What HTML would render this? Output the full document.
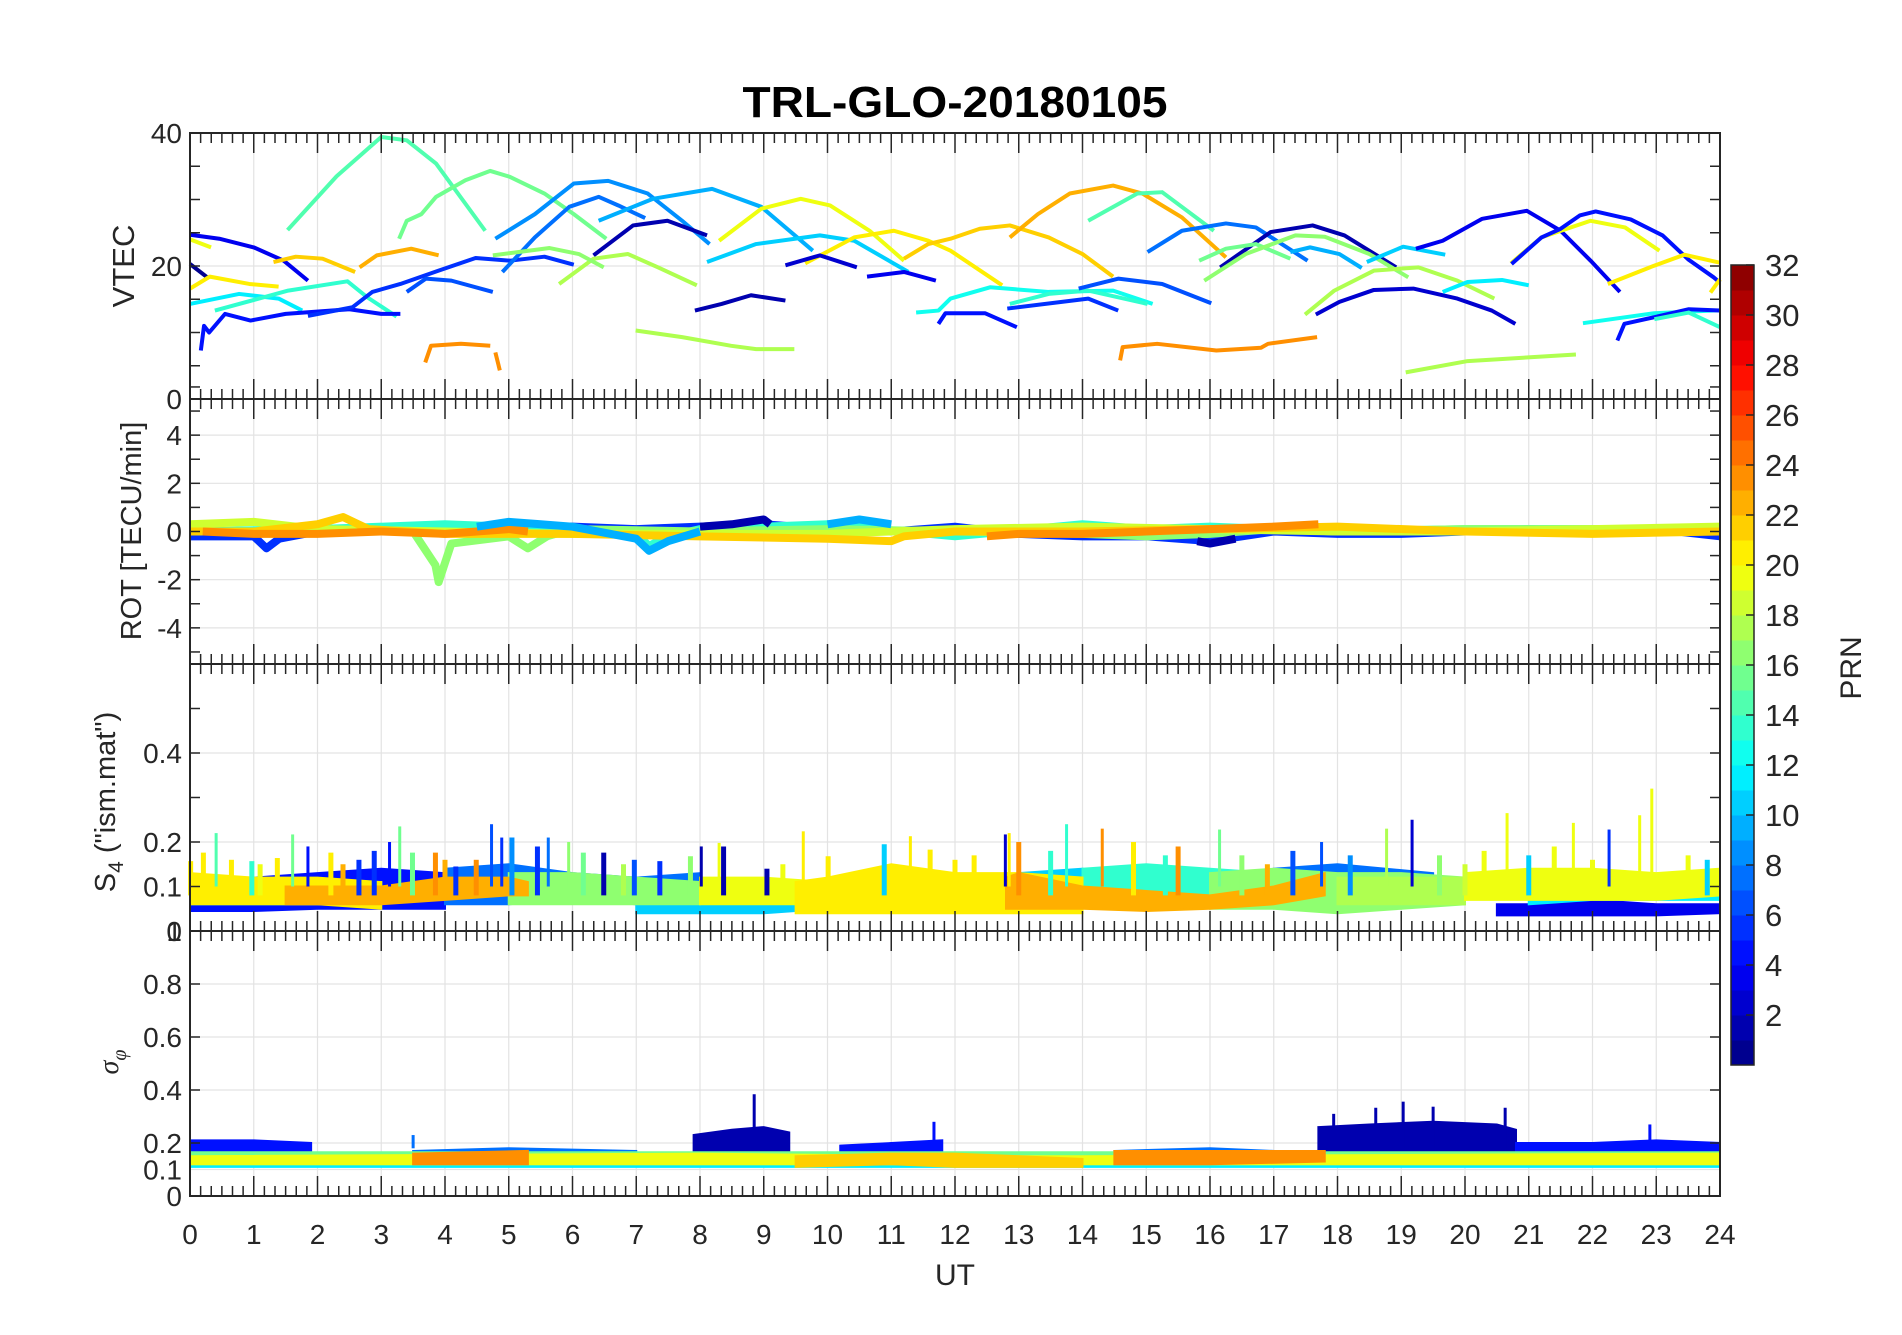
<!DOCTYPE html>
<html><head><meta charset="utf-8"><style>
html,body{margin:0;padding:0;background:#fff}
svg text{font-family:"Liberation Sans",sans-serif;fill:#262626}
</style></head><body>
<svg id="fig" width="1902" height="1330" viewBox="0 0 1902 1330" xmlns="http://www.w3.org/2000/svg">
<rect width="1902" height="1330" fill="#fff"/>
<text x="955" y="117" text-anchor="middle" font-size="44" font-weight="bold" textLength="425" lengthAdjust="spacingAndGlyphs" style="fill:#000">TRL-GLO-20180105</text>
<g id="layer"></g>
</svg>
<script>
// ---------- VTEC arcs ----------
const vtecPrn=[4,1,20,21,12,14,5,6,7,15,22,23,16,9,8,10,2,20,11,21,22,3,4,2,18,24,24,18,17,13,5,23,15,8,2,16,17,10,11,18,3,12,4,20,5,21,6,14,7,24,18,13,5,14,21];
const vtecT=[[0,0.46,1.0,1.47,1.85],[0,0.27],[0,0.33],[0,0.31,0.93,1.39],[0,0.77,1.39,1.76],[0.39,1.54,2.47,2.78,3.24],[0.17,0.22,0.3,0.55,0.95,1.5,2.5,3.0,3.3],[1.85,2.55,2.86,3.3,3.9,4.48,5.02,5.56,6.02],[3.4,3.7,4.1,4.75],[1.53,2.3,3.0,3.4,3.86,4.63],[1.31,1.66,2.08,2.59],[2.66,2.93,3.47,3.9],[3.28,3.4,3.63,3.86,4.32,4.71,5.02,5.56,6.02,6.53],[4.79,5.41,6.02,6.56,7.18,7.72,8.15],[4.9,5.41,5.95,6.41,6.72,7.14],[6.41,7.26,8.19,8.96,9.77],[6.33,6.95,7.49,8.11],[8.3,8.96,9.58,10.04,10.66,11.2],[8.11,8.88,9.88,10.42,11.27],[9.65,10.42,11.04,11.58,11.93,12.74],[11.2,11.58,11.93,12.39,12.86,13.47,14.0,14.48],[9.34,9.88,10.46],[10.62,11.2,11.7],[7.92,8.34,8.8,9.34],[6.99,7.72,8.49,8.88,9.48],[3.69,3.78,4.25,4.71],[4.79,4.86],[5.79,6.33,6.87,7.34,7.95],[4.75,5.64,6.1,6.49],[11.39,11.74,11.93,12.55,13.47,14.48,15.1],[11.74,11.85,12.47,12.97],[12.86,13.3,13.8,14.48,14.94,15.56,16.25],[14.09,14.86,15.25,16.06],[15.02,15.56,16.25,16.72,17.53],[16.16,16.95,17.61,18.11,18.92],[15.83,16.25,16.72,17.26],[15.91,16.56,17.34,17.8,18.5,19.11],[17.26,17.57,18.03,18.38],[18.46,19.03,19.69],[17.49,17.95,18.57,19.27,19.88,20.46],[17.66,18.03,18.57,19.19,19.88,20.42,20.79],[19.65,20.04,20.58,21.0],[19.23,19.65,20.27,20.97,21.5,21.97,22.43],[20.72,21.2,21.97,22.51,23.05],[20.73,21.2,21.5,21.8,22.05,22.6,23.1,23.5,23.9,24],[22.24,22.9,23.44,23.9,24],[12.82,14.09,14.56],[12.86,13.47,14.09,15.02],[13.94,14.56,15.25,16.02],[14.59,14.63,15.17,16.1,16.8,16.91,17.68],[19.07,20.04,21.74],[21.85,22.97,23.9,24],[22.39,22.5,22.97,23.51,24],[22.97,23.51,24],[23.85,24]];
const vtecV=[[24.7,24.1,22.8,20.8,17.8],[20.3,18.3],[24,22.8],[16.6,18.4,17.3,16.9],[14.3,15.8,15.1,13.3],[13.3,16.3,17.7,15.3,12.4],[7.3,11,10,12.8,11.8,12.8,13.5,12.8,12.8],[12.5,13.8,16.1,17.3,19.3,21.2,20.8,21.4,20.2],[16.1,18.1,17.8,16.1],[25.4,33.5,39.4,38.9,35.4,25.3],[20.6,21.4,21.1,19.1],[19.8,21.6,22.6,21.6],[24.1,26.8,27.8,30.4,32.9,34.3,33.4,30.9,27.8,24.1],[24.1,27.8,32.4,32.8,30.9,26.8,23.3],[19.1,24.3,28.9,30.4,29.1,27.2],[26.8,30.1,31.6,28.9,22.3],[21.6,26.1,26.8,24.6],[23.8,28.6,30.1,29.1,25.3,20.8],[20.6,23.3,24.6,23.8,19.1],[20.4,24.3,25.3,23.8,22.3,17.1],[21.1,23.3,24.1,25.6,26.1,24.3,21.8,18.4],[20.1,21.6,19.8],[18.4,19.1,17.8],[13.3,14.3,15.6,14.8],[10.3,9.3,8.0,7.5,7.5],[5.5,8.0,8.3,8.0],[7,4.3],[17.3,21.1,21.8,19.8,17.1],[21.6,22.7,21.8,19.8],[13,13.3,15.1,16.8,16.1,16.3,14.3],[11.3,12.9,12.9,10.8],[24.3,27.8,30.9,32.1,30.9,27.3,21.3],[26.8,30.9,31.1,25.3],[22.1,25.3,26.4,25.8,20.8],[19.8,25.1,26.1,24.6,19.8],[20.8,22.6,23.3,21.1],[17.8,21.8,24.6,24.4,21.8,18.3],[22.1,22.8,21.8,19.7],[20.6,22.9,21.7],[12.7,16.3,19.3,19.8,17.8,15.1],[12.7,14.6,16.4,16.6,15.1,13.3,11.3],[16.1,17.6,17.9,17.1],[22.6,23.8,27.1,28.3,25.3,20.8,16.1],[20.4,24.3,26.8,25.8,22.3],[20.3,24.3,25.6,27.6,28.2,27,24.6,21,18.3,17.5],[17.3,19.8,21.7,20.7,20.5],[13.6,15.1,13.3],[14.3,15.8,16.3,14.3],[16.6,18.1,17.3,14.4],[5.8,7.8,8.3,7.3,7.7,8.3,9.3],[4.0,5.7,6.7],[11.4,12.9,13.3,13.3],[8.8,11.3,12.3,13.5,13.3],[12,13,10.8],[16,18]];
// ---------- ROT ----------
const rotPrn=[6,14,17,19,22,24,24,2,2,10,10];
const rotT=[[0,1,1.2,1.4,2,3,4,5,6,7,8,9,10,11,12,13,14,15,16,17,18,19,20,21,22,23,24],[0,2,4,6,7,7.2,7.5,8,10,12,14,15,16,18,20,22,24],[0,2,3.5,3.85,3.9,4.1,5,5.3,5.6,6,8,10,12,14,15,16,17,18,20,22,24],[0,1,2,4,6,8,10,12,14,16,18,20,22,24],[0,1,2,2.4,2.8,4,6,8,10,11,11.2,12,14,16,18,20,22,24],[0.2,1,2,3,4,5,5.3],[12.5,13,14,15,16,17,17.7],[8,8.5,9,9.1],[15.8,16,16.4],[4.5,5,5.5,6,7,7.2,7.5,8],[10,10.5,11]];
const rotC=[[-0.2,-0.2,-0.7,-0.3,0,0.1,0.2,0.2,0.2,0.1,0.2,0.3,0.1,0,0.2,-0.1,-0.2,-0.2,-0.4,0,-0.1,-0.1,0,0.1,0,0.1,-0.2],[0,0.1,0.3,0.1,-0.1,-0.6,-0.2,0.1,0.3,-0.2,0.3,0.1,0.2,0,0.1,0.1,0],[0,0,0,-1.4,-2.1,-0.5,-0.2,-0.7,-0.2,0.1,0,0.1,0,-0.1,-0.2,-0.1,0.1,0,0.1,0.1,0.1],[0.3,0.4,0.1,0,-0.1,-0.1,-0.1,0.1,0.2,0.1,0,0,0.1,0.2],[0,0,0.3,0.6,0.1,-0.1,-0.1,-0.2,-0.3,-0.4,-0.2,0,0,0.1,0.2,0,-0.1,0],[0,-0.1,-0.1,0,-0.1,0.1,0],[-0.2,-0.1,-0.1,0,0.1,0.2,0.3],[0.2,0.3,0.5,0.3],[-0.4,-0.5,-0.3],[0.2,0.4,0.3,0.2,-0.3,-0.8,-0.4,0],[0.3,0.5,0.3]];
// ---------- S4 ----------
const s4Prn=[4,5,8,8,11,12,14,14,17,17,18,20,20,21,21,23,23];
const s4T=[[20.5,21,22,23,24],[0,1,2,3,4],[4,5,6,7,8],[17,18,19.5],[7,8,9,10,11,12,13,14],[21,22,23,24],[0,1,2,3],[14,15,16,17],[5,6,7,8],[16,17,18,19,20],[18,19,20],[8,9,10],[20,21,22,23,24],[0,1,2,3],[9.5,10,11,12,13,14],[1.5,2,3,4,5,5.3],[12.8,13,14,15,16,17,17.8]];
const s4Lo=[[0.035,0.035,0.035,0.035,0.04],[0.045,0.045,0.05,0.05,0.05],[0.06,0.06,0.07,0.06,0.07],[0.06,0.06,0.06],[0.04,0.04,0.04,0.05,0.05,0.05,0.06,0.06],[0.06,0.07,0.07,0.07],[0.06,0.06,0.06,0.06],[0.06,0.08,0.07,0.07],[0.06,0.06,0.06,0.06],[0.05,0.05,0.04,0.05,0.06],[0.06,0.06,0.06],[0.06,0.06,0.06],[0.07,0.07,0.07,0.07,0.08],[0.06,0.06,0.06,0.05],[0.04,0.04,0.04,0.04,0.04,0.04],[0.06,0.06,0.06,0.07,0.08,0.08],[0.05,0.05,0.05,0.045,0.05,0.06,0.08]];
const s4Hi=[[0.06,0.06,0.07,0.06,0.06],[0.12,0.12,0.13,0.14,0.13],[0.14,0.15,0.13,0.12,0.13],[0.14,0.15,0.13],[0.08,0.09,0.08,0.1,0.12,0.12,0.13,0.14],[0.12,0.13,0.12,0.13],[0.12,0.12,0.11,0.11],[0.14,0.15,0.14,0.13],[0.13,0.13,0.12,0.11],[0.13,0.14,0.13,0.13,0.12],[0.12,0.12,0.12],[0.12,0.12,0.11],[0.13,0.14,0.14,0.13,0.14],[0.13,0.12,0.12,0.11],[0.11,0.12,0.15,0.13,0.13,0.12],[0.1,0.1,0.1,0.12,0.12,0.11],[0.12,0.13,0.1,0.09,0.08,0.1,0.13]];
const s4SpikeT=[0.41,1.61,1.85,3.13,3.29,4.73,4.89,5.62,5.94,8.02,8.3,9.62,11.3,12.79,12.85,13.75,14.31,16.15,17.75,18.77,19.17,20.66,21.7,22.26,22.74,22.93];
const s4SpikeV=[0.22,0.217,0.19,0.2,0.235,0.24,0.21,0.21,0.2,0.19,0.198,0.224,0.213,0.217,0.22,0.24,0.23,0.228,0.2,0.23,0.25,0.265,0.243,0.228,0.26,0.32];
const s4SpikePrn=[15,16,5,5,16,7,6,8,17,2,20,21,21,3,21,14,24,16,7,18,3,20,20,6,20,20];
const s4MidT=[0.01,0.21,0.65,0.97,1.37,2.21,2.65,2.89,3.49,3.85,4.17,4.49,5.05,5.45,6.17,6.49,6.97,7.37,7.85,8.37,9.05,10.01,10.89,11.61,12.3,13.0,13.5,14.8,15.3,15.5,16.5,17.3,18.2,19.6,20.3,21.0,21.4,22.0,23.5,23.8,1.1,2.4,4.0,6.8,9.3,12.0,16.9,20.0];
const s4MidV=[0.157,0.176,0.16,0.157,0.164,0.176,0.16,0.18,0.176,0.176,0.145,0.16,0.21,0.19,0.176,0.176,0.16,0.157,0.168,0.19,0.14,0.168,0.195,0.183,0.17,0.2,0.18,0.2,0.17,0.19,0.17,0.18,0.17,0.17,0.18,0.17,0.19,0.16,0.17,0.16,0.15,0.15,0.16,0.15,0.15,0.16,0.15,0.15];
const s4MidPrn=[21,21,21,14,21,21,6,6,16,24,6,24,9,6,16,2,7,6,17,2,2,21,11,21,21,24,14,21,14,24,17,7,9,17,20,11,20,20,20,11,20,23,23,18,20,21,23,19];
// ---------- sigma phi ----------
const sigPrn=[2,2,5,5,5,8,8,12,16,20,22,24,24];
const sigT=[[7.9,8.5,9,9.4],[17.7,18.5,19.5,20.5,20.8],[0,1,1.9],[20.8,22,23,24],[10.2,11,11.8],[3.5,5,7],[14.5,16,17],[0,24],[0,24],[0,8,12,14,24],[9.5,11,12,13,14],[3.5,5.3],[14.5,16,17.8]];
const sigLo=[[0.15,0.16,0.16,0.15],[0.17,0.17,0.17,0.17,0.16],[0.15,0.15,0.15],[0.15,0.15,0.15,0.15],[0.14,0.14,0.14],[0.13,0.13,0.13],[0.13,0.13,0.13],[0.11,0.11],[0.12,0.12],[0.12,0.12,0.12,0.12,0.12],[0.11,0.12,0.11,0.11,0.11],[0.12,0.12],[0.12,0.12,0.13]];
const sigHi=[[0.23,0.25,0.26,0.24],[0.26,0.27,0.28,0.27,0.25],[0.21,0.21,0.2],[0.2,0.2,0.21,0.2],[0.19,0.2,0.21],[0.17,0.18,0.17],[0.17,0.18,0.17],[0.13,0.13],[0.165,0.165],[0.15,0.16,0.15,0.15,0.16],[0.15,0.16,0.16,0.15,0.14],[0.16,0.17],[0.17,0.17,0.17]];
const sigSpikeT=[8.85,11.67,19.03,18.6,19.5,20.63,17.94,22.9,3.5];
const sigSpikeV=[0.384,0.28,0.356,0.333,0.337,0.333,0.31,0.27,0.23];
const sigSpikePrn=[2,5,2,2,2,2,2,5,8];
// ---------- axes ticks ----------
const hourTicks=[0,1,2,3,4,5,6,7,8,9,10,11,12,13,14,15,16,17,18,19,20,21,22,23,24];
const vtecTicks=[0,20,40];
const rotTicks=[-4,-2,0,2,4];
const s4Ticks=[0,0.1,0.2,0.4];
const sigTicks=[0,0.1,0.2,0.4,0.6,0.8];
const cbTicks=[2,4,6,8,10,12,14,16,18,20,22,24,26,28,30,32];

const NS='http://www.w3.org/2000/svg';
const layer=document.getElementById('layer');
const X0=190,X1=1720;
const xs=h=>X0+h*(X1-X0)/24;
const panels=[
 {name:'vtec',top:133,bot:399,min:0,max:40},
 {name:'rot',top:399,bot:664,min:-5.5,max:5.5},
 {name:'s4',top:664,bot:931,min:0,max:0.6},
 {name:'sigma',top:931,bot:1196,min:0,max:1}];
const ys=(p,v)=>p.bot-(v-p.min)/(p.max-p.min)*(p.bot-p.top);
function jet(p){const t=(p-0.5)/32;const c=x=>Math.round(255*Math.max(0,Math.min(1,1.5-Math.abs(4*t-x))));return `rgb(${c(3)},${c(2)},${c(1)})`;}
function mk(tag,attrs,parent){const e=document.createElementNS(NS,tag);for(const k in attrs)e.setAttribute(k,attrs[k]);(parent||layer).appendChild(e);return e;}
function txt(s,attrs,parent){const e=mk('text',attrs,parent);e.textContent=s;return e;}

panels.forEach(p=>{
 const g=mk('g',{});
 
 
 hourTicks.forEach(h=>mk('line',{x1:xs(h),x2:xs(h),y1:p.top,y2:p.bot,stroke:'#e3e3e3','stroke-width':1.2},g));
 const tk={vtec:vtecTicks,rot:rotTicks,s4:s4Ticks,sigma:sigTicks}[p.name];
 tk.forEach(v=>mk('line',{x1:X0,x2:X1,y1:ys(p,v),y2:ys(p,v),stroke:'#e3e3e3','stroke-width':1.2},g));
});

const pV=panels[0];
vtecPrn.forEach((prn,i)=>{
 const pts=vtecT[i].map((t,j)=>xs(t)+','+ys(pV,vtecV[i][j])).join(' ');
 const e=mk('polyline',{points:pts,fill:'none',stroke:jet(prn),'stroke-width':4,'stroke-linejoin':'round'});
 
 
});
const pR=panels[1];
rotPrn.forEach((prn,i)=>{
 const pts=rotT[i].map((t,j)=>xs(t)+','+ys(pR,rotC[i][j])).join(' ');
 const e=mk('polyline',{points:pts,fill:'none',stroke:jet(prn),'stroke-width':8,'stroke-linejoin':'round'});
 
 
});
function band(p,prns,T,Lo,Hi,label){
 prns.map((prn,i)=>i).sort((a,b)=>prns[a]-prns[b]).forEach(i=>{
  const up=T[i].map((t,j)=>xs(t)+','+ys(p,Hi[i][j]));
  const dn=T[i].map((t,j)=>xs(t)+','+ys(p,Lo[i][j])).reverse();
  const e=mk('polygon',{points:up.concat(dn).join(' '),fill:jet(prns[i]),stroke:jet(prns[i]),'stroke-width':2});
  
  
 });
}
function spikes(p,T,V,P,base,label,w){
 T.forEach((t,i)=>{
  const e=mk('line',{x1:xs(t),x2:xs(t),y1:ys(p,base),y2:ys(p,V[i]),stroke:jet(P[i]),'stroke-width':w});
  
  
 });
}
band(panels[2],s4Prn,s4T,s4Lo,s4Hi,'s4');
spikes(panels[2],s4MidT,s4MidV,s4MidPrn,0.08,'s4-mid',5);
spikes(panels[2],s4SpikeT,s4SpikeV,s4SpikePrn,0.1,'s4',3);
band(panels[3],sigPrn,sigT,sigLo,sigHi,'sigma');
spikes(panels[3],sigSpikeT,sigSpikeV,sigSpikePrn,0.18,'sigma',3);

panels.forEach(p=>{
 const g=mk('g',{});
 
 
 for(let k=0;k<=144;k++){
  const h=k/6,maj=k%6===0,L=maj?20:10;
  mk('line',{x1:xs(h),x2:xs(h),y1:p.bot,y2:p.bot-L,stroke:'#262626','stroke-width':1.5},g);
  mk('line',{x1:xs(h),x2:xs(h),y1:p.top,y2:p.top+L,stroke:'#262626','stroke-width':1.5},g);
 }
 const minor={vtec:5,rot:1,s4:0.1,sigma:0.2}[p.name];
 for(let v=p.min;v<=p.max+1e-9;v+=minor){
  const vv=Math.round(v/minor)*minor; if(vv<p.min-1e-9) continue;
  mk('line',{x1:X0,x2:X0+10,y1:ys(p,vv),y2:ys(p,vv),stroke:'#262626','stroke-width':1.5},g);
  mk('line',{x1:X1,x2:X1-10,y1:ys(p,vv),y2:ys(p,vv),stroke:'#262626','stroke-width':1.5},g);
 }
 mk('rect',{x:X0,y:p.top,width:X1-X0,height:p.bot-p.top,fill:'none',stroke:'#262626','stroke-width':2},g);
 const tk={vtec:vtecTicks,rot:rotTicks,s4:s4Ticks,sigma:sigTicks}[p.name];
 tk.forEach(v=>{
  const e=txt(String(v),{x:X0-8,y:ys(p,v)+10,'text-anchor':'end','font-size':28},g);
  
  
 });
});
const one=txt('1',{x:X0-8,y:panels[3].top+10,'text-anchor':'end','font-size':28});


hourTicks.forEach(h=>{
 const e=txt(String(h),{x:xs(h),y:1244,'text-anchor':'middle','font-size':28});
 
 
});
const cb=mk('g',{});


const CB0=265,CBH=800;
for(let i=1;i<=32;i++) mk('rect',{x:1731,y:CB0+CBH-i*CBH/32,width:23,height:CBH/32+0.5,fill:jet(i)},cb);
mk('rect',{x:1731,y:CB0,width:23,height:CBH,fill:'none',stroke:'#262626','stroke-width':1.5},cb);
cbTicks.forEach(v=>{
 const y=CB0+CBH-v/32*CBH;
 mk('line',{x1:1746,x2:1754,y1:y,y2:y,stroke:'#262626','stroke-width':1.5},cb);
 const e=txt(String(v),{x:1765,y:y+11,'font-size':31},cb);
 
 
});
</script>
<svg style="position:absolute;left:0;top:0" width="1902" height="1330">
<text transform="translate(1861,668) rotate(-90)" text-anchor="middle" font-size="30" style="fill:#262626;font-family:'Liberation Sans',sans-serif">PRN</text>
<text transform="translate(134,266) rotate(-90)" text-anchor="middle" font-size="31" style="fill:#262626;font-family:'Liberation Sans',sans-serif">VTEC</text>
<text transform="translate(141,531) rotate(-90)" text-anchor="middle" font-size="29" style="fill:#262626;font-family:'Liberation Sans',sans-serif">ROT [TECU/min]</text>
<text transform="translate(115,802) rotate(-90)" text-anchor="middle" font-size="29" style="fill:#262626;font-family:'Liberation Sans',sans-serif">S<tspan font-size="21" dy="8">4</tspan><tspan dy="-8"> ("ism.mat")</tspan></text>
<text transform="translate(118,1062) rotate(-90)" text-anchor="middle" font-size="28" font-style="italic" style="fill:#262626;font-family:'Liberation Serif',serif">σ<tspan font-size="20" dy="8">φ</tspan></text>
<text x="955" y="1285" text-anchor="middle" font-size="30" style="fill:#262626;font-family:'Liberation Sans',sans-serif">UT</text>
</svg>
</body></html>
